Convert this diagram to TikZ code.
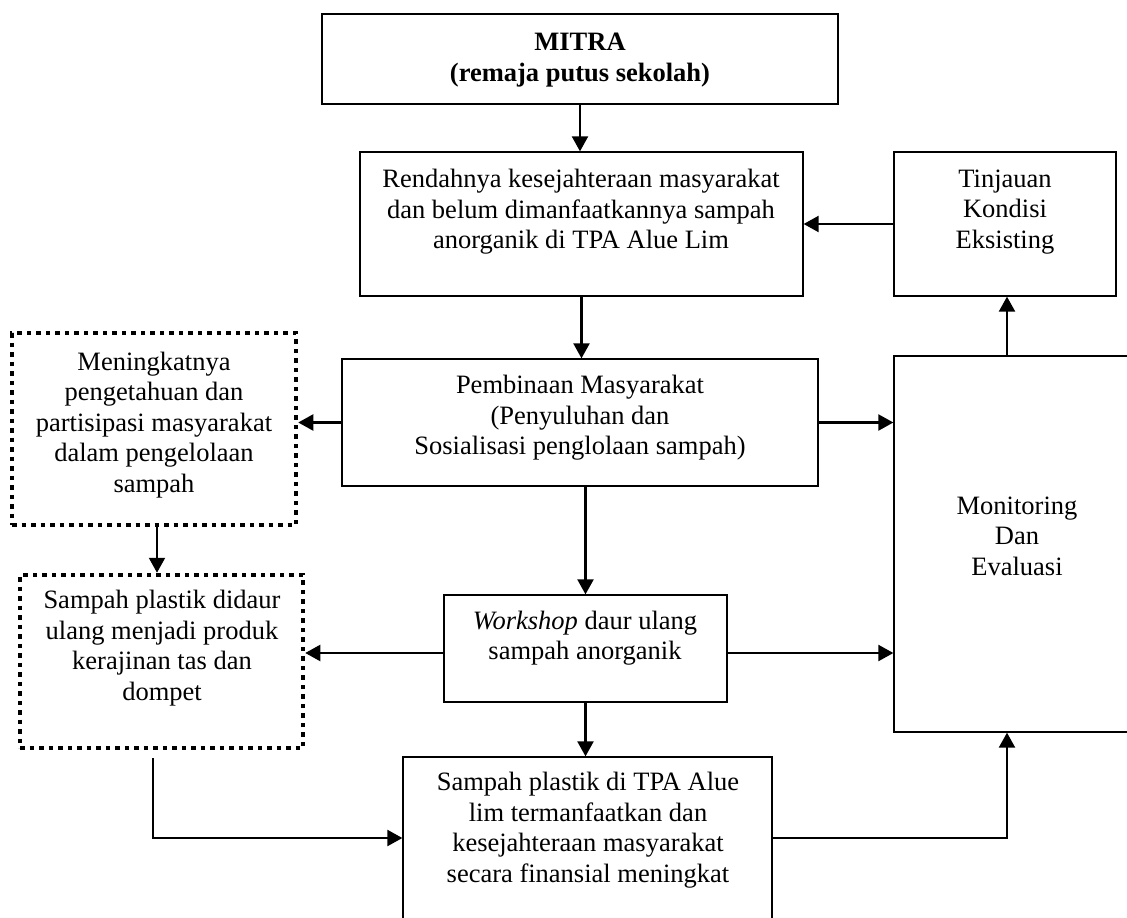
\documentclass[tikz,border=0pt]{standalone}
\usepackage{fontspec}
\setmainfont{Liberation Serif}
\usetikzlibrary{arrows.meta}
\tikzset{
  box/.style={draw, line width=1.3pt, rectangle, inner sep=0pt},
  dotbox/.style={draw, line width=4.5pt, dash pattern=on 4.5pt off 5pt, rectangle, inner sep=0pt},
  txt/.style={align=center, inner sep=0pt, font=\fontsize{26.5}{30.5}\selectfont},
  arr/.style={line width=2.2pt, -{Triangle[length=15pt,width=16pt]}}
}
\begin{document}
\begin{tikzpicture}[x=1pt,y=-1pt]
\useasboundingbox (0,0) rectangle (1127,918);
% boxes
\node[box, minimum width=516pt, minimum height=90pt] (mitra) at (580,59) {};
\node[box, minimum width=443pt, minimum height=144pt] (rend) at (581.5,224) {};
\node[box, minimum width=222pt, minimum height=144pt] (tin) at (1005,224) {};
\node[dotbox, minimum width=284pt, minimum height=192pt] (mening) at (154,429) {};
\node[box, minimum width=476pt, minimum height=127pt] (pemb) at (580,422.5) {};
\node[box, minimum width=246pt, minimum height=376pt] (mon) at (1017,544) {};
\node[dotbox, minimum width=283pt, minimum height=173pt] (didaur) at (161.5,661.5) {};
\node[box, minimum width=283pt, minimum height=107pt] (work) at (585.5,648.5) {};
\node[box, minimum width=369pt, minimum height=178pt] (bot) at (587.5,846) {};
% texts
\node[txt, font=\fontsize{26.5}{30.5}\selectfont\bfseries] (tmitra) at (580,60) {MITRA\\(remaja putus sekolah)};
\node[txt] (trend) at (581,212) {Rendahnya kesejahteraan masyarakat\\dan belum dimanfaatkannya sampah\\anorganik di TPA Alue Lim};
\node[txt] (ttin) at (1005,212) {Tinjauan\\Kondisi\\Eksisting};
\node[txt] (tmening) at (154,425) {Meningkatnya\\pengetahuan dan\\partisipasi masyarakat\\dalam pengelolaan\\sampah};
\node[txt] (tpemb) at (580,418) {Pembinaan Masyarakat\\(Penyuluhan dan\\Sosialisasi penglolaan sampah)};
\node[txt] (tmon) at (1017,536) {Monitoring\\Dan\\Evaluasi};
\node[txt] (tdidaur) at (162,648) {Sampah plastik didaur\\ulang menjadi produk\\kerajinan tas dan\\dompet};
\node[txt] (twork) at (585,638) {\textit{Workshop} daur ulang\\sampah anorganik};
\node[txt] (tbot) at (588,830) {Sampah plastik di TPA Alue\\lim termanfaatkan dan\\kesejahteraan masyarakat\\secara finansial meningkat};
\coordinate (mx) at (1007,0);
% connectors
\draw[arr] (mitra.south) -- (mitra.south |- rend.north);
\draw[arr] (tin.west) -- (rend.east);
\draw[arr] (rend.south) -- (rend.south |- pemb.north);
\draw[arr] (pemb.west) -- (mening.east |- pemb.west);
\draw[arr] (pemb.east) -- (mon.west |- pemb.east);
\draw[arr] (work.north |- pemb.south) -- (work.north);
\draw[arr] ([xshift=3pt]mening.south) -- ([xshift=3pt]mening.south |- didaur.north);
\draw[arr] ([yshift=-4.5pt]work.west) -- ([yshift=-4.5pt]work.west -| didaur.east);
\draw[arr] ([yshift=-4.5pt]work.east) -- ([yshift=-4.5pt]work.east -| mon.west);
\draw[arr] (work.south) -- (work.south |- bot.north);
\draw[arr] ([xshift=-8.5pt,yshift=-8pt]didaur.south) |- ([yshift=8pt]bot.west);
\draw[arr] ([yshift=8pt]bot.east) -| (mon.south -| mx);
\draw[arr] (mon.north -| mx) -- (tin.south -| mx);
\end{tikzpicture}
\end{document}
